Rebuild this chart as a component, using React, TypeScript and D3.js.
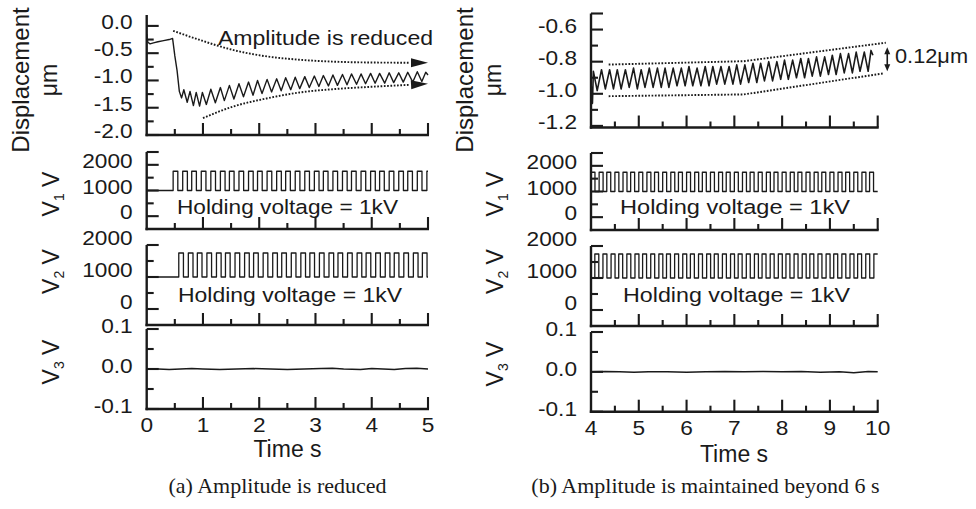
import React from "react";
import * as d3 from "d3";

// ================= DATA =================
const leftTimeMajor = [0, 1, 2, 3, 4, 5];
const leftTimeMinor = [0.5, 1.5, 2.5, 3.5, 4.5];
const leftTimeLabels = ["0", "1", "2", "3", "4", "5"];
const rightTimeMajor = [4, 5, 6, 7, 8, 9, 10];
const rightTimeMinor = [4.5, 5.5, 6.5, 7.5, 8.5, 9.5];
const rightTimeLabels = ["4", "5", "6", "7", "8", "9", "10"];

const dispLeftMajor = [0.0, -0.5, -1.0, -1.5, -2.0];
const dispLeftLabels = ["0.0", "-0.5", "-1.0", "-1.5", "-2.0"];
const dispLeftMinor = [-0.25, -0.75, -1.25, -1.75];

const dispRightMajor = [-0.6, -0.8, -1.0, -1.2];
const dispRightLabels = ["-0.6", "-0.8", "-1.0", "-1.2"];
const dispRightMinor = [-0.7, -0.9, -1.1];
const dispRightCap = [-0.5];

const voltMajor = [2000, 1000, 0];
const voltLabels = ["2000", "1000", "0"];
const v1Minor = [1500, 500];
const v1Cap = [2500];
const v2Minor = [1500, 500];

const v3Major = [0.1, 0.0, -0.1];
const v3Labels = ["0.1", "0.0", "-0.1"];
const v3Minor = [0.05, -0.05];

const holdingVoltage = 1000;
const pulseVoltage = 1750;
const pulseWidth = 0.083;

// rising edges of the driving pulses (s)
const leftV1Rises = [0.47, 0.64, 0.80, 0.97, 1.14, 1.31, 1.47, 1.64, 1.81, 1.97, 2.14, 2.31, 2.47, 2.64, 2.81, 2.98, 3.14, 3.31, 3.48, 3.64, 3.81, 3.98, 4.14, 4.31, 4.48, 4.64, 4.81, 4.98];
const leftV2Rises = [0.57, 0.74, 0.90, 1.07, 1.24, 1.40, 1.57, 1.74, 1.90, 2.07, 2.24, 2.40, 2.57, 2.74, 2.90, 3.07, 3.24, 3.40, 3.57, 3.74, 3.90, 4.07, 4.24, 4.40, 4.57, 4.74, 4.90];
const rightV1Rises = [4.00, 4.17, 4.33, 4.50, 4.67, 4.83, 5.00, 5.17, 5.33, 5.50, 5.67, 5.83, 6.00, 6.17, 6.33, 6.50, 6.67, 6.83, 7.00, 7.17, 7.33, 7.50, 7.67, 7.83, 8.00, 8.17, 8.33, 8.50, 8.67, 8.83, 9.00, 9.17, 9.33, 9.50, 9.67, 9.83];
const rightV2Rises = [4.08, 4.25, 4.42, 4.58, 4.75, 4.92, 5.08, 5.25, 5.42, 5.58, 5.75, 5.92, 6.08, 6.25, 6.42, 6.58, 6.75, 6.92, 7.08, 7.25, 7.42, 7.58, 7.75, 7.92, 8.08, 8.25, 8.42, 8.58, 8.75, 8.92, 9.08, 9.25, 9.42, 9.58, 9.75, 9.92];

// displacement traces [time s, displacement um]
const leftDisp: [number, number][] = [
  [0.00, -0.15], [0.02, -0.30], [0.06, -0.33], [0.12, -0.31], [0.20, -0.29], [0.30, -0.27], [0.40, -0.25], [0.46, -0.23],
  [0.50, -0.55], [0.54, -0.82], [0.58, -1.20], [0.62, -1.32],
  [0.66, -1.17], [0.72, -1.40], [0.77, -1.20], [0.83, -1.46], [0.88, -1.22], [0.94, -1.47], [0.99, -1.22], [1.06, -1.44],
  [1.14, -1.16], [1.22, -1.41], [1.31, -1.13], [1.38, -1.37], [1.47, -1.09], [1.55, -1.34], [1.64, -1.06], [1.72, -1.30],
  [1.81, -1.03], [1.89, -1.27], [1.97, -1.00], [2.05, -1.24], [2.14, -0.98], [2.22, -1.21], [2.31, -0.97], [2.39, -1.19],
  [2.47, -0.95], [2.56, -1.17], [2.64, -0.94], [2.72, -1.15], [2.81, -0.93], [2.89, -1.13], [2.98, -0.92], [3.06, -1.11],
  [3.14, -0.91], [3.23, -1.10], [3.31, -0.90], [3.39, -1.09], [3.48, -0.89], [3.56, -1.08], [3.64, -0.88], [3.73, -1.07],
  [3.81, -0.88], [3.89, -1.06], [3.98, -0.87], [4.06, -1.05], [4.14, -0.87], [4.23, -1.05], [4.31, -0.86], [4.39, -1.04],
  [4.48, -0.86], [4.56, -1.03], [4.64, -0.85], [4.73, -1.03], [4.81, -0.84], [4.89, -1.02], [4.96, -0.85], [5.00, -0.90],
];
const rightDisp: [number, number][] = [
  [4.00, -0.93], [4.03, -1.06], [4.05, -0.86], [4.13, -0.98], [4.22, -0.85], [4.30, -0.97], [4.39, -0.85], [4.47, -0.97],
  [4.55, -0.85], [4.63, -0.97], [4.72, -0.85], [4.80, -0.96], [4.89, -0.84], [4.97, -0.97], [5.05, -0.85], [5.13, -0.96],
  [5.22, -0.84], [5.30, -0.96], [5.39, -0.84], [5.47, -0.96], [5.55, -0.84], [5.63, -0.96], [5.72, -0.84], [5.80, -0.95],
  [5.89, -0.84], [5.97, -0.95], [6.05, -0.83], [6.13, -0.95], [6.22, -0.84], [6.30, -0.95], [6.39, -0.83], [6.47, -0.95],
  [6.55, -0.83], [6.63, -0.94], [6.72, -0.83], [6.80, -0.94], [6.89, -0.83], [6.97, -0.94], [7.05, -0.82], [7.13, -0.94],
  [7.22, -0.82], [7.30, -0.93], [7.39, -0.81], [7.47, -0.93], [7.55, -0.81], [7.63, -0.92], [7.72, -0.80], [7.80, -0.92],
  [7.89, -0.80], [7.97, -0.91], [8.05, -0.79], [8.13, -0.91], [8.22, -0.79], [8.30, -0.90], [8.39, -0.78], [8.47, -0.90],
  [8.55, -0.78], [8.63, -0.89], [8.72, -0.77], [8.80, -0.89], [8.89, -0.77], [8.97, -0.88], [9.05, -0.76], [9.13, -0.88],
  [9.22, -0.75], [9.30, -0.87], [9.39, -0.75], [9.47, -0.87], [9.55, -0.74], [9.63, -0.86], [9.72, -0.74], [9.80, -0.86],
  [9.86, -0.73], [9.90, -0.76],
];

// V3 residual voltage [time s, V]
const leftV3: [number, number][] = [
  [0.0, 0.000], [0.2, 0.000], [0.4, -0.001], [0.6, 0.000], [0.8, 0.001], [1.0, 0.000], [1.3, -0.001], [1.6, 0.000],
  [1.9, 0.001], [2.2, 0.000], [2.5, -0.001], [2.8, 0.000], [3.1, 0.001], [3.3, 0.002], [3.5, 0.000], [3.8, -0.001],
  [4.0, 0.001], [4.2, 0.000], [4.4, -0.001], [4.6, 0.001], [4.8, 0.002], [5.0, 0.000],
];
const rightV3: [number, number][] = [
  [4.0, 0.000], [4.3, 0.001], [4.6, 0.000], [4.9, -0.001], [5.2, 0.000], [5.6, 0.000], [6.0, -0.001], [6.4, 0.000],
  [6.8, 0.001], [7.2, 0.000], [7.6, 0.001], [8.0, 0.000], [8.4, 0.001], [8.8, -0.001], [9.2, 0.000], [9.5, -0.002],
  [9.8, 0.001], [10.0, 0.000],
];

// envelopes
const leftUpperEnv: [number, number][] = [[0.47, -0.09], [0.95, -0.26], [1.53, -0.44], [2.14, -0.56], [2.72, -0.62], [3.31, -0.655], [3.92, -0.67], [4.68, -0.675], [5.0, -0.675]];
const leftLowerEnv: [number, number][] = [[1.0, -1.69], [1.53, -1.48], [2.13, -1.33], [2.72, -1.22], [3.31, -1.16], [3.92, -1.12], [4.68, -1.08], [5.0, -1.06]];
const rightUpperEnv: [number, number][] = [[4.37, -0.818], [7.2, -0.797], [10.17, -0.682]];
const rightLowerEnv: [number, number][] = [[4.37, -1.015], [7.2, -1.004], [10.12, -0.873]];
const gapArrowTime = 10.2;
const gapArrowValues = [-0.71, -0.86];

// ================= LAYOUT =================
const INK = "#1a1a1a";
const SANS = "'Liberation Sans', Arial, Helvetica, sans-serif";
const SERIF = "'Liberation Serif', 'Times New Roman', serif";

const xL = d3.scaleLinear().domain([0, 5]).range([146.7, 428]);
const xR = d3.scaleLinear().domain([4, 10]).range([591, 877.7]);

const yLD = d3.scaleLinear().domain([-2.0, 0.2]).range([135, 15]);
const yLV1 = d3.scaleLinear().domain([-500, 2500]).range([229, 152]);
const yLV2 = d3.scaleLinear().domain([-500, 2000]).range([325, 245]);
const yLV3 = d3.scaleLinear().domain([-0.1, 0.1]).range([409, 329]);
const yRD = d3.scaleLinear().domain([-1.21, -0.5]).range([127.5, 13.5]);
const yRV1 = d3.scaleLinear().domain([-500, 2500]).range([230, 153]);
const yRV2 = d3.scaleLinear().domain([-500, 2000]).range([326, 246]);
const yRV3 = d3.scaleLinear().domain([-0.1, 0.1]).range([411.7, 332]);

function squarePts(rises: number[], t0: number, t1: number): [number, number][] {
  const pts: [number, number][] = [[t0, holdingVoltage]];
  for (const r of rises) {
    const f = r + pulseWidth;
    if (f > t1) {
      pts.push([r, holdingVoltage], [r, pulseVoltage], [t1, pulseVoltage]);
      return pts;
    }
    pts.push([r, holdingVoltage], [r, pulseVoltage], [f, pulseVoltage], [f, holdingVoltage]);
  }
  pts.push([t1, holdingVoltage]);
  return pts;
}

function linePath(xs: any, ys: any, pts: [number, number][], curve: any = d3.curveLinear) {
  return d3.line<[number, number]>().x((d) => xs(d[0])).y((d) => ys(d[1])).curve(curve)(pts) || "";
}

function Txt({ x, y, children, anchor = "start", size = 20, sx = 1, rotate = 0, family = SANS, len }: any) {
  let tr = `translate(${x},${y})`;
  if (rotate) tr += ` rotate(${rotate})`;
  if (sx !== 1) tr += ` scale(${sx},1)`;
  return (
    <text transform={tr} textAnchor={anchor} fontSize={size} fontFamily={family} fill={INK} stroke="none"
      textLength={len} lengthAdjust={len ? "spacingAndGlyphs" : undefined}>
      {children}
    </text>
  );
}

function Panel({ xs, ys, major, labels, minor, extra = [], xMajor, xMinor, xLabels, labelDy = 3 }: any) {
  const [x0, x1] = xs.range();
  const [yb, yt] = ys.range();
  return (
    <g>
      <g stroke={INK} fill="none">
        <line x1={x0} y1={yt} x2={x0} y2={yb + 1.2} strokeWidth={2.4} />
        <line x1={x0 - 1.2} y1={yb} x2={x1 + 1} y2={yb} strokeWidth={2.4} />
        {major.concat(extra).map((v: number, i: number) => (
          <line key={"ma" + i} x1={x0} x2={x0 + 12} y1={ys(v)} y2={ys(v)} strokeWidth={2.1} />
        ))}
        {minor.map((v: number, i: number) => (
          <line key={"mi" + i} x1={x0} x2={x0 + 7} y1={ys(v)} y2={ys(v)} strokeWidth={2.1} />
        ))}
        {xMajor.filter((t: number) => xs(t) > x0 + 1).map((t: number, i: number) => (
          <line key={"xa" + i} x1={xs(t)} x2={xs(t)} y1={yb} y2={yb - 12} strokeWidth={2.1} />
        ))}
        {xMinor.map((t: number, i: number) => (
          <line key={"xi" + i} x1={xs(t)} x2={xs(t)} y1={yb} y2={yb - 6} strokeWidth={2.1} />
        ))}
      </g>
      {major.map((v: number, i: number) => (
        <Txt key={"lb" + i} x={x0 - 14} y={ys(v) + labelDy} anchor="end" size={21} sx={1.08}>{labels[i]}</Txt>
      ))}
      {xLabels && xMajor.map((t: number, i: number) => (
        <Txt key={"xl" + i} x={xs(t)} y={yb + 23} anchor="middle" size={21} sx={1.08}>{xLabels[i]}</Txt>
      ))}
    </g>
  );
}

function Arrow({ xs, ys, pts }: any) {
  const a = pts[pts.length - 2], b = pts[pts.length - 1];
  const xa = xs(a[0]), ya = ys(a[1]), xb = xs(b[0]), yb = ys(b[1]);
  const ang = Math.atan2(yb - ya, xb - xa);
  const L = 17, Wd = 4.5;
  const bx = xb - L * Math.cos(ang), by = yb - L * Math.sin(ang);
  const nx = -Math.sin(ang) * Wd, ny = Math.cos(ang) * Wd;
  return <polygon points={`${xb},${yb} ${bx + nx},${by + ny} ${bx - nx},${by - ny}`} fill={INK} />;
}

function VLabel({ x, y, sub }: any) {
  return (
    <text transform={`translate(${x},${y}) rotate(-90)`} textAnchor="middle" fontSize={23} fontFamily={SANS} fill={INK}>
      V<tspan dy={5} fontSize={14}>{sub}</tspan><tspan dy={-5}> V</tspan>
    </text>
  );
}

export default function App() {
  const dotted = { fill: "none", stroke: INK, strokeWidth: 1.9, strokeDasharray: "1.7 1.6" };
  const trace = { fill: "none", stroke: INK, strokeWidth: 1.4, strokeLinejoin: "round" as const };

  const lu = leftUpperEnv.slice(0, -1);
  const ll = leftLowerEnv.slice(0, -1);

  return (
    <svg width={976} height={509} viewBox="0 0 976 509"
      style={{ position: "absolute", left: 0, top: 0, background: "#fff", display: "block" }}>
      <rect x={0} y={0} width={976} height={509} fill="#fff" />

      {/* ---------- LEFT (a) ---------- */}
      <Panel xs={xL} ys={yLD} major={dispLeftMajor} labels={dispLeftLabels} minor={dispLeftMinor}
        xMajor={leftTimeMajor} xMinor={leftTimeMinor} />
      <Panel xs={xL} ys={yLV1} major={voltMajor} labels={voltLabels} minor={v1Minor} extra={v1Cap}
        xMajor={leftTimeMajor} xMinor={leftTimeMinor} />
      <Panel xs={xL} ys={yLV2} major={voltMajor} labels={voltLabels} minor={v2Minor} labelDy={0}
        xMajor={leftTimeMajor} xMinor={leftTimeMinor} />
      <Panel xs={xL} ys={yLV3} major={v3Major} labels={v3Labels} minor={v3Minor} labelDy={4}
        xMajor={leftTimeMajor} xMinor={leftTimeMinor} xLabels={leftTimeLabels} />

      <path d={linePath(xL, yLD, leftDisp)} {...trace} />
      <path d={linePath(xL, yLD, lu, d3.curveMonotoneX)} {...dotted} />
      <path d={linePath(xL, yLD, ll, d3.curveMonotoneX)} {...dotted} />
      <Arrow xs={xL} ys={yLD} pts={leftUpperEnv} />
      <Arrow xs={xL} ys={yLD} pts={leftLowerEnv} />
      <path d={linePath(xL, yLV1, squarePts(leftV1Rises, 0, 5))} {...trace} strokeWidth={1.3} />
      <path d={linePath(xL, yLV2, squarePts(leftV2Rises, 0, 5))} {...trace} strokeWidth={1.3} />
      <path d={linePath(xL, yLV3, leftV3)} {...trace} strokeWidth={1.5} />

      <Txt x={218} y={45} size={20} len={215}>Amplitude is reduced</Txt>
      <Txt x={177} y={214} size={20.5} len={221}>Holding voltage = 1kV</Txt>
      <Txt x={178} y={301.5} size={20.5} len={224}>Holding voltage = 1kV</Txt>

      <Txt x={29} y={80} size={24} rotate={-90} anchor="middle">Displacement</Txt>
      <Txt x={56.5} y={80} size={23} rotate={-90} anchor="middle">μm</Txt>
      <VLabel x={59} y={194} sub="1" />
      <VLabel x={59} y={271.5} sub="2" />
      <VLabel x={59} y={362} sub="3" />
      <Txt x={287.5} y={457} size={23} anchor="middle">Time s</Txt>

      {/* ---------- RIGHT (b) ---------- */}
      <Panel xs={xR} ys={yRD} major={dispRightMajor} labels={dispRightLabels} minor={dispRightMinor} extra={dispRightCap}
        xMajor={rightTimeMajor} xMinor={rightTimeMinor} />
      <Panel xs={xR} ys={yRV1} major={voltMajor} labels={voltLabels} minor={v1Minor} extra={v1Cap}
        xMajor={rightTimeMajor} xMinor={rightTimeMinor} />
      <Panel xs={xR} ys={yRV2} major={voltMajor} labels={voltLabels} minor={v2Minor} labelDy={0}
        xMajor={rightTimeMajor} xMinor={rightTimeMinor} />
      <Panel xs={xR} ys={yRV3} major={v3Major} labels={v3Labels} minor={v3Minor} labelDy={4}
        xMajor={rightTimeMajor} xMinor={rightTimeMinor} xLabels={rightTimeLabels} />

      <path d={linePath(xR, yRD, rightDisp)} {...trace} strokeWidth={1.6} />
      <path d={linePath(xR, yRD, rightUpperEnv)} {...dotted} />
      <path d={linePath(xR, yRD, rightLowerEnv)} {...dotted} />
      <g stroke={INK} fill={INK}>
        <line x1={xR(gapArrowTime)} x2={xR(gapArrowTime)} y1={yRD(gapArrowValues[0]) + 5} y2={yRD(gapArrowValues[1]) - 5} strokeWidth={1.6} />
        <polygon stroke="none" points={`${xR(gapArrowTime)},${yRD(gapArrowValues[0])} ${xR(gapArrowTime) - 3},${yRD(gapArrowValues[0]) + 7} ${xR(gapArrowTime) + 3},${yRD(gapArrowValues[0]) + 7}`} />
        <polygon stroke="none" points={`${xR(gapArrowTime)},${yRD(gapArrowValues[1])} ${xR(gapArrowTime) - 3},${yRD(gapArrowValues[1]) - 7} ${xR(gapArrowTime) + 3},${yRD(gapArrowValues[1]) - 7}`} />
      </g>
      <Txt x={895} y={63.3} size={20} len={73}>0.12μm</Txt>

      <path d={linePath(xR, yRV1, squarePts(rightV1Rises, 4, 10))} {...trace} strokeWidth={1.3} />
      <path d={linePath(xR, yRV2, squarePts(rightV2Rises, 4, 10))} {...trace} strokeWidth={1.3} />
      <path d={linePath(xR, yRV3, rightV3)} {...trace} strokeWidth={1.5} />

      <Txt x={620} y={214} size={20.5} len={230}>Holding voltage = 1kV</Txt>
      <Txt x={623} y={302} size={20.5} len={227}>Holding voltage = 1kV</Txt>

      <Txt x={473} y={80} size={24} rotate={-90} anchor="middle">Displacement</Txt>
      <Txt x={500.5} y={80} size={23} rotate={-90} anchor="middle">μm</Txt>
      <VLabel x={503} y={194} sub="1" />
      <VLabel x={503} y={271.5} sub="2" />
      <VLabel x={503} y={364} sub="3" />
      <Txt x={734} y={462} size={23} anchor="middle">Time s</Txt>

      {/* ---------- captions ---------- */}
      <Txt x={277.5} y={493} size={22} family={SERIF} anchor="middle">(a) Amplitude is reduced</Txt>
      <Txt x={705.5} y={493} size={22} family={SERIF} anchor="middle">(b) Amplitude is maintained beyond 6 s</Txt>
    </svg>
  );
}
